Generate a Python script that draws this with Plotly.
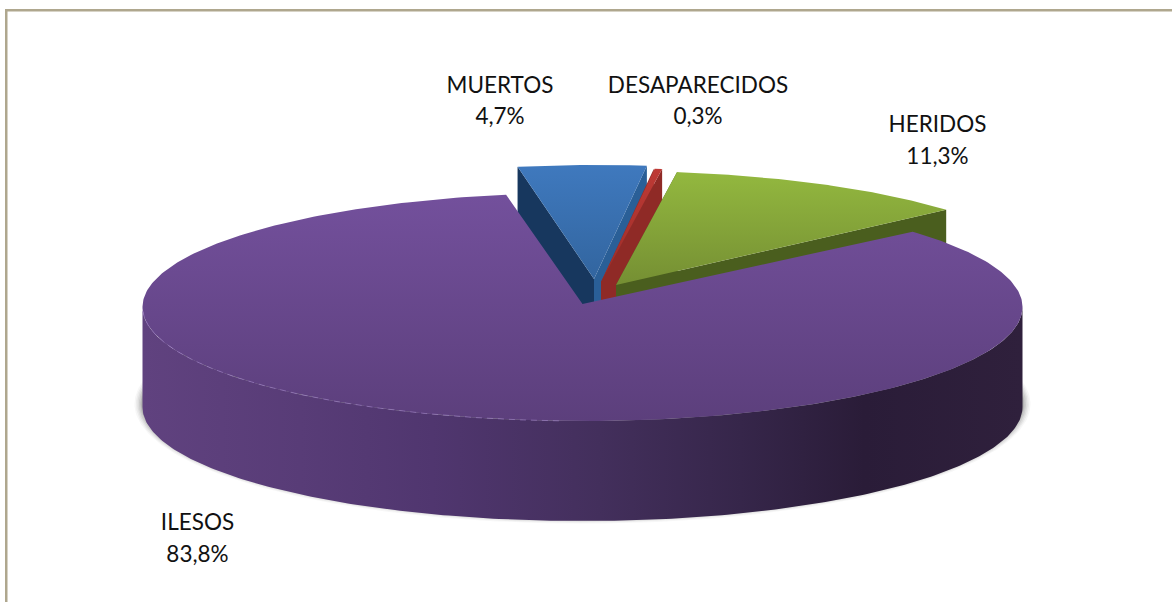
import numpy as np
import plotly.graph_objects as go

# Data
categories = ["MUERTOS", "DESAPARECIDOS", "HERIDOS", "ILESOS"]
values = [4.7, 0.3, 11.3, 83.8]

# Style and layout
W, H = 1172, 602
RX, RY, DEPTH = 440, 114, 100
START = -10.0
centers = {"MUERTOS": (594, 279), "DESAPARECIDOS": (601, 282), "HERIDOS": (616, 285), "ILESOS": (582.5, 307)}
apex_y = {"ILESOS": 304}
top_grad = {
    "MUERTOS": ["#3F79BE", "#32659F"],
    "DESAPARECIDOS": ["#BE3A35", "#9A2C28"],
    "HERIDOS": ["#93B83F", "#758F33"],
    "ILESOS": ["#73509C", "#5C3F7C"],
}
wall_start = {"MUERTOS": "#17375E", "DESAPARECIDOS": "#8F2A26", "HERIDOS": "#4A5E1E"}
wall_end = {"MUERTOS": "#2A5F97"}
label_x = {"MUERTOS": 500, "DESAPARECIDOS": 698, "HERIDOS": 937.5, "ILESOS": 197.5}
label_y = {"MUERTOS": (87, 118), "DESAPARECIDOS": (87, 118), "HERIDOS": (126, 158), "ILESOS": (524, 556)}
FONT = dict(family="Lato, Carlito, sans-serif", size=22.5, color="#111111")

total = sum(values)
edges = [START]
for v in values:
    edges.append(edges[-1] + v / total * 360)


def arc(c, a, b, n=120, dy=0.0, rx=RX, ry=RY):
    t = np.radians(np.linspace(a, b, n))
    return c[0] + rx * np.sin(t), c[1] + dy - ry * np.cos(t)


def poly(fig, x, y, fill=None, grad=None):
    kw = dict(x=list(x), y=list(y), mode="lines", line=dict(width=0), fill="toself",
              hoverinfo="skip", showlegend=False)
    if grad is not None:
        kw["fillgradient"] = grad
        kw["fillcolor"] = "rgba(0,0,0,0)"
    else:
        kw["fillcolor"] = fill
    fig.add_trace(go.Scatter(**kw))


fig = go.Figure()

# soft shadow under the disc
c0 = centers["ILESOS"]
for grow, a in zip([8, 6.5, 5, 3.5, 2, 1], [0.04, 0.06, 0.08, 0.10, 0.12, 0.14]):
    sx, sy = arc(c0, 0, 360, n=360, dy=DEPTH - 3, rx=RX + grow, ry=RY + grow * 0.7)
    poly(fig, sx, sy, fill=f"rgba(60,60,60,{a})")

# exploded slices, back to front
for i, name in enumerate(categories[:3]):
    c = centers[name]
    a0, a1 = edges[i], edges[i + 1]
    xa, ya = arc(c, a0, a1)
    # left cut wall
    poly(fig, [c[0], xa[0], xa[0], c[0]], [c[1], ya[0], ya[0] + DEPTH, c[1] + DEPTH], fill=wall_start[name])
    # right cut wall
    poly(fig, [c[0], xa[-1], xa[-1], c[0]], [c[1], ya[-1], ya[-1] + DEPTH, c[1] + DEPTH],
         fill=wall_end.get(name, wall_start[name]))
    poly(fig, [c[0], *xa, c[0]], [c[1], *ya, c[1]],
         grad=dict(type="vertical", colorscale=[[0, top_grad[name][1]], [1, top_grad[name][0]]]))

# main slice: side wall
name = "ILESOS"
c = centers[name]
xt, yt = arc(c, 90, 270, n=240)
xb, yb = arc(c, 270, 90, n=240, dy=DEPTH)
poly(fig, [*xt, *xb], [*yt, *yb],
     grad=dict(type="horizontal", colorscale=[
         [0.0, "#60427F"], [0.18, "#583C77"], [0.33, "#50366F"], [0.52, "#432F5C"],
         [0.68, "#36264A"], [0.82, "#2A1C38"], [1.0, "#2F203C"]]))
# main slice: top
xa, ya = arc(c, edges[3], edges[4], n=360)
poly(fig, [c[0], *xa, c[0]], [apex_y[name], *ya, apex_y[name]],
     grad=dict(type="vertical", colorscale=[[0, top_grad[name][1]], [1, top_grad[name][0]]]))
# highlight on the front rim
xs, ys = arc(c, 268, 183, n=200)
fig.add_trace(go.Scatter(x=list(xs), y=list(ys), mode="lines",
                         line=dict(color="rgba(160,130,200,0.6)", width=1, dash="6px,5px"),
                         hoverinfo="skip", showlegend=False))

# labels
fig.add_trace(go.Scatter(x=[label_x[n] for n in categories], y=[label_y[n][0] for n in categories],
                         mode="text", text=categories, textfont=FONT, textposition="middle center",
                         hoverinfo="skip", showlegend=False))
fig.add_trace(go.Scatter(x=[label_x[n] for n in categories], y=[label_y[n][1] for n in categories],
                         mode="text", text=[f"{v:.1f}%".replace(".", ",") for v in values], textfont=FONT,
                         textposition="middle center", hoverinfo="skip", showlegend=False))

frame = "#AFA78E"
fig.update_layout(
    width=W, height=H, margin=dict(l=0, r=0, t=0, b=0),
    paper_bgcolor="white", plot_bgcolor="white", showlegend=False,
    xaxis=dict(range=[0, W], visible=False),
    yaxis=dict(range=[H, 0], visible=False),
    shapes=[
        dict(type="rect", x0=5, x1=W, y0=9, y1=11.5, fillcolor=frame, line_width=0, layer="below"),
        dict(type="rect", x0=5, x1=7.5, y0=9, y1=H, fillcolor=frame, line_width=0, layer="below"),
    ],
)
fig.write_html("out.html", config=dict(displayModeBar=False),
               post_script="document.body.style.margin='0';document.documentElement.style.overflow='hidden';")
